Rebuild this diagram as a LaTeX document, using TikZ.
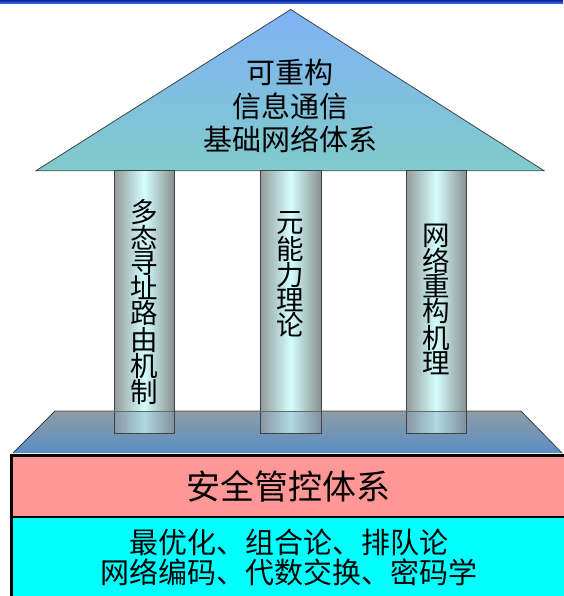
\documentclass[tikz,border=0pt]{standalone}
\usepackage{fontspec}
\setmainfont{Noto Sans CJK SC}
\definecolor{barA}{HTML}{0A22A0}
\definecolor{barB}{HTML}{3A80E8}
\definecolor{triTop}{HTML}{80B2F6}
\definecolor{triBot}{HTML}{80CBCB}
\definecolor{pilEdgeL}{HTML}{939A9A}
\definecolor{pilEdgeR}{HTML}{899090}
\definecolor{pilMid}{HTML}{D4FEFE}
\definecolor{platTop}{HTML}{8E9CA6}
\definecolor{platBot}{HTML}{5A8EC6}
\definecolor{redc}{HTML}{FF9797}
\definecolor{cyanc}{HTML}{00FFFF}
\definecolor{edgec}{HTML}{3C4446}
\begin{document}
\begin{tikzpicture}[x=1pt,y=-1pt,
  pillar/.style={left color=pilEdgeL, right color=pilEdgeR, middle color=pilMid},
  pillaredge/.style={draw=edgec, line width=0.9pt},
  overlay/.style={fill=platBot!55!platTop, opacity=0.35},
  pilltext/.style={font=\fontsize{27.5}{25}\selectfont, align=center, inner sep=0pt},
  rooftext/.style={font=\fontsize{29}{33.5}\selectfont, align=center, inner sep=0pt},
  basetext/.style={font=\fontsize{29}{30}\selectfont, align=center, inner sep=0pt},
  boxline/.style={draw=black, line width=2.7pt}]
\useasboundingbox (0,0) rectangle (563,596);
% top bar
\shade[top color=barA, bottom color=barB] (0,0) rectangle (563,4);
% roof
\shade[top color=triTop, bottom color=triBot] (290.7,9.5) -- (544,170.7) -- (36,170.7) -- cycle;
\draw[draw=edgec, line width=0.8pt] (290.7,9.5) -- (544,170.7) -- (36,170.7) -- cycle;
% platform
\shade[top color=platTop, bottom color=platBot] (55,411) -- (521,411) -- (562,453) -- (13,453) -- cycle;
\draw[draw=edgec, line width=0.8pt] (13,453) -- (55,411) -- (521,411) -- (562,453);
% pillars
\shade[pillar] (114,170.7) rectangle (174,433);
\shade[pillar] (260,170.7) rectangle (321,433);
\shade[pillar] (406,170.7) rectangle (466,433);
\fill[overlay] (114,411) rectangle (174,433);
\fill[overlay] (260,411) rectangle (321,433);
\fill[overlay] (406,411) rectangle (466,433);
\draw[pillaredge] (114,170.7) rectangle (174,433);
\draw[pillaredge] (260,170.7) rectangle (321,433);
\draw[pillaredge] (406,170.7) rectangle (466,433);
\draw[draw=edgec!80, line width=0.8pt] (114,411) -- (174,411) (260,411) -- (321,411) (406,411) -- (466,411);
% base boxes
\draw[boxline, fill=redc] (11.3,455.5) rectangle (575,517);
\draw[boxline, fill=cyanc] (11.3,517) rectangle (575,610);
% texts
\node[rooftext] (roof) at (290,106) {可重构\\信息通信\\基础网络体系};
\node[pilltext] (p1) at (144,302) {多\\态\\寻\\址\\路\\由\\机\\制};
\node[pilltext] (p2) at (290.5,274.5) {元\\能\\力\\理\\论};
\node[pilltext] (p3) at (436,299) {网\\络\\重\\构\\机\\理};
\node[font=\fontsize{34}{40}\selectfont, inner sep=0pt] (sec) at (288.5,486) {安全管控体系};
\node[basetext] (math) at (289,557) {最优化、组合论、排队论\\网络编码、代数交换、密码学};
\end{tikzpicture}
\end{document}
